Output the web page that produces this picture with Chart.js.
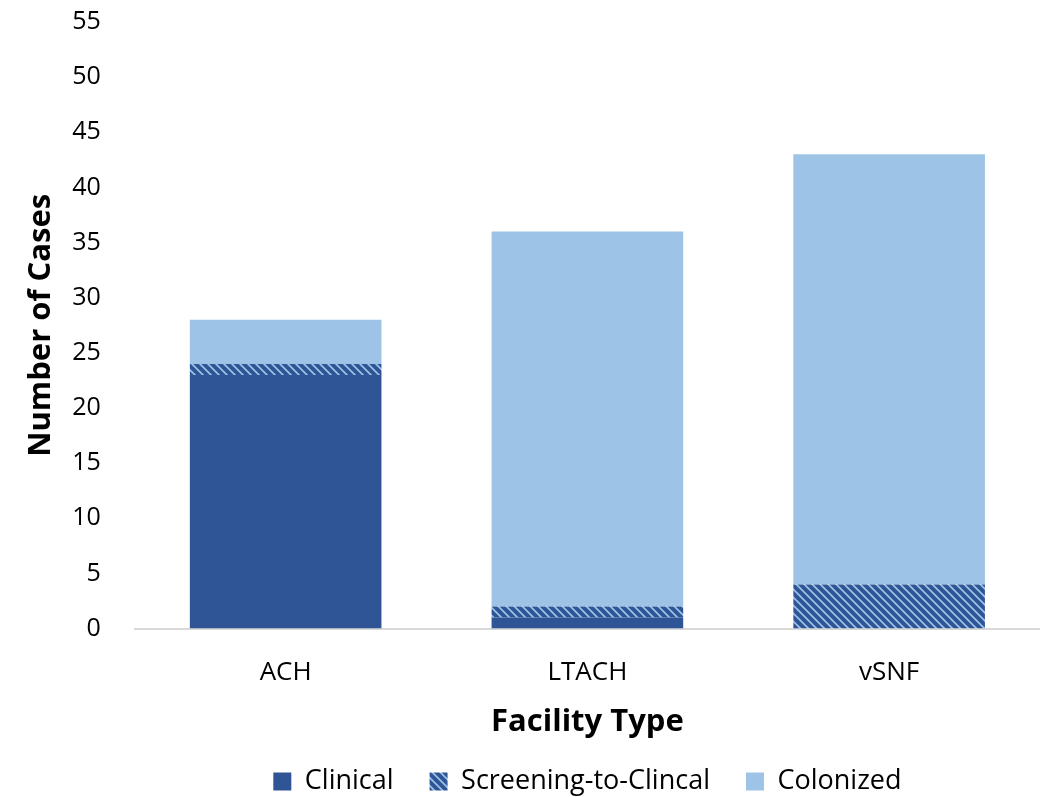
<!DOCTYPE html>
<html>
<head>
<meta charset="utf-8">
<script src="https://cdn.jsdelivr.net/npm/chart.js@4/dist/chart.umd.min.js"></script>
<style>
  html, body { margin: 0; padding: 0; background: #fff; }
  #wrap { width: 1040px; height: 797px; }
</style>
</head>
<body>
<div id="wrap"><canvas id="myChart"></canvas></div>
<script>
// Datos
const categorias = ["ACH", "LTACH", "vSNF"];
const clinical = [23, 1, 0];
const screening = [1, 1, 4];
const colonized = [4, 34, 39];

const azulOscuro = "#2f5597";
const azulClaro = "#9dc3e6";

// Patron rayado para Screening-to-Clincal
function hacerRayado() {
  const c = document.createElement("canvas");
  c.width = 8;
  c.height = 8;
  const ctx = c.getContext("2d");
  ctx.fillStyle = azulClaro;
  ctx.fillRect(0, 0, 8, 8);
  ctx.strokeStyle = azulOscuro;
  ctx.lineWidth = 4;
  ctx.beginPath();
  ctx.moveTo(-2, -2);
  ctx.lineTo(10, 10);
  ctx.moveTo(-10, -2);
  ctx.lineTo(2, 10);
  ctx.moveTo(6, -2);
  ctx.lineTo(18, 10);
  ctx.stroke();
  return ctx.createPattern(c, "repeat");
}
const rayado = hacerRayado();

const fuente = "'Open Sans', 'Noto Sans', sans-serif";
const grafica = document.getElementById("myChart").getContext("2d");

new Chart(grafica, {
  type: "bar",
  data: {
    labels: categorias,
    datasets: [
      { label: "Clinical", data: clinical, backgroundColor: azulOscuro },
      { label: "Screening-to-Clincal", data: screening, backgroundColor: rayado },
      { label: "Colonized", data: colonized, backgroundColor: azulClaro },
    ],
  },
  options: {
    responsive: true,
    maintainAspectRatio: false,
    animation: false,
    layout: { padding: { top: 22, right: -23, left: 21, bottom: -8 } },
    datasets: { bar: { categoryPercentage: 1, barPercentage: 0.635 } },
    scales: {
      x: {
        stacked: true,
        grid: { display: false },
        border: { color: "#d9d9d9", width: 2 },
        ticks: { color: "#000", font: { family: fuente, size: 26 }, padding: 20 },
        title: {
          display: true,
          text: "Facility Type",
          color: "#000",
          font: { family: fuente, size: 31, weight: "bold" },
          padding: { top: -4, bottom: -9 },
        },
        afterFit: (scale) => {
          scale.paddingLeft = 0;
          scale.paddingRight = 0;
        },
      },
      y: {
        stacked: true,
        min: 0,
        max: 55,
        grid: { display: false },
        border: { display: false },
        ticks: { stepSize: 5, color: "#000", font: { family: fuente, size: 25 }, padding: 26 },
        title: {
          display: true,
          text: "Number of Cases",
          color: "#000",
          font: { family: fuente, size: 31, weight: "bold" },
          padding: { top: 2, bottom: -14 },
        },
        afterFit: (scale) => {
          scale.paddingTop = 0;
          scale.paddingBottom = 0;
        },
      },
    },
    plugins: {
      tooltip: { enabled: false },
      legend: {
        position: "bottom",
        fullSize: false,
        labels: {
          color: "#000",
          boxWidth: 18,
          boxHeight: 18,
          padding: 36,
          font: { family: fuente, size: 27 },
        },
      },
    },
  },
});
</script>
</body>
</html>
